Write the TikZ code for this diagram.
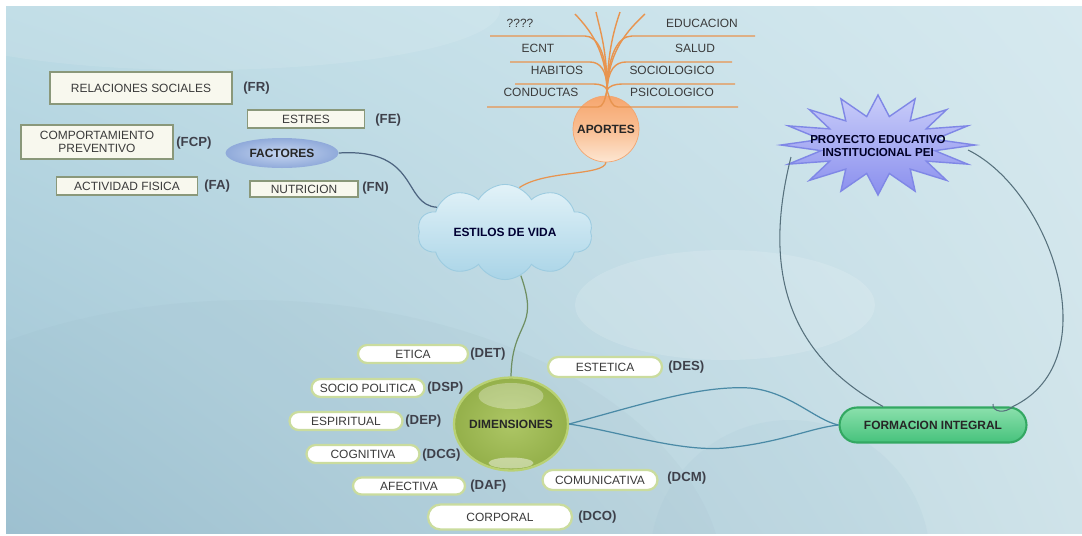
\documentclass[tikz,border=0pt]{standalone}
\usepackage{fontspec}
\setmainfont{Liberation Sans}
\usetikzlibrary{shapes.geometric,shapes.symbols,shapes.misc,shadings}
\definecolor{bgUL}{HTML}{BCDBE5}
\definecolor{bgUR}{HTML}{D6E9EF}
\definecolor{bgLL}{HTML}{9FC3D3}
\definecolor{bgLR}{HTML}{CFE3E9}
\definecolor{boxfill}{HTML}{F8F8EE}
\definecolor{boxdraw}{HTML}{8A987A}
\definecolor{txt}{HTML}{3A3A3A}
\definecolor{tagc}{HTML}{3E404A}
\definecolor{pilldraw}{HTML}{CADC9E}
\definecolor{orangeL}{HTML}{E8944F}
\definecolor{facdark}{HTML}{90AADA}
\definecolor{faclight}{HTML}{C6D6F0}
\definecolor{connblue}{HTML}{4D6480}
\definecolor{apoTop}{HTML}{F6A66E}
\definecolor{apoMid}{HTML}{F9BE92}
\definecolor{apoBot}{HTML}{FDE6D2}
\definecolor{apoDraw}{HTML}{F2A570}
\definecolor{cloudTop}{HTML}{E2F2F8}
\definecolor{cloudBot}{HTML}{A9D4E7}
\definecolor{cloudDraw}{HTML}{9CCBE0}
\definecolor{dimIn}{HTML}{ADC665}
\definecolor{dimOut}{HTML}{94B04A}
\definecolor{dimDraw}{HTML}{B9D173}
\definecolor{formTop}{HTML}{8BE0AC}
\definecolor{formBot}{HTML}{46C27C}
\definecolor{formDraw}{HTML}{33A862}
\definecolor{starTop}{HTML}{C9CDF9}
\definecolor{starBot}{HTML}{8A8FEE}
\definecolor{starDraw}{HTML}{7F87E6}
\definecolor{dimLine}{HTML}{6F8F62}
\definecolor{formLine}{HTML}{4A8AA6}
\definecolor{peiLine}{HTML}{56707C}
\newcommand\mfs{\fontsize{6.8}{7.6}\selectfont}
\newcommand\mfb{\bfseries\fontsize{6.8}{7.6}\selectfont}
\tikzset{
  fbox/.style={draw=boxdraw, fill=boxfill, line width=0.6pt, font=\mfs, text=txt, inner sep=0pt, align=center},
  pill/.style={rounded rectangle, draw=pilldraw, fill=white, line width=1.3pt, font=\mfs, text=txt, inner sep=0pt, minimum height=0.36cm},
  tag/.style={font=\bfseries\fontsize{7.5}{8}\selectfont, text=tagc, inner sep=0pt, anchor=west},
  lbl/.style={font=\mfs, text=txt, inner sep=0pt},
  abranch/.style={draw=orangeL, line width=0.8pt},
  conn/.style={line width=0.7pt},
}
\begin{document}
\begin{tikzpicture}[x=0.02cm,y=-0.02cm]
\useasboundingbox (0,0) rectangle (1082,535);
\fill[white] (0,0) rectangle (1082,535);
\shade[upper left=bgUL, upper right=bgUR, lower left=bgLL, lower right=bgLR] (6,6) rectangle (1082,533);
\begin{scope}
\clip (6,6) rectangle (1082,533);
\fill[white, opacity=0.14] (725,305) ellipse [x radius=3cm, y radius=1.1cm];
\fill[bgLL!85!black, opacity=0.07] (250,590) ellipse [x radius=9.5cm, y radius=5.8cm];
\fill[bgLL, opacity=0.14] (790,560) circle [radius=2.8cm];
\fill[white, opacity=0.10] (200,10) ellipse [x radius=6cm, y radius=1.2cm];
\end{scope}

% factor boxes
\node[fbox, minimum width=3.64cm, minimum height=0.64cm] (rs) at (141,88) {RELACIONES SOCIALES};
\node[fbox, minimum width=2.34cm, minimum height=0.36cm] (es) at (306,119) {ESTRES};
\node[fbox, minimum width=3.04cm, minimum height=0.68cm] (cp) at (97,142) {COMPORTAMIENTO\\PREVENTIVO};
\node[fbox, minimum width=2.82cm, minimum height=0.36cm] (af) at (127,186) {ACTIVIDAD FISICA};
\node[fbox, minimum width=2.16cm, minimum height=0.32cm] (nu) at (304,189) {NUTRICION};
\node[tag] (tfr) at (243,88) {(FR)};
\node[tag] (tfe) at (375,120) {(FE)};
\node[tag] (tfcp) at (176,143) {(FCP)};
\node[tag] (tfa) at (204,186) {(FA)};
\node[tag] (tfn) at (362,188) {(FN)};
\node[ellipse, minimum width=2.26cm, minimum height=0.6cm, inner sep=0pt, inner color=faclight, outer color=facdark, font=\mfb, text=black!85] (fac) at (282,153) {FACTORES};

% aportes
\node[circle, minimum size=1.32cm, inner sep=0pt, top color=apoTop, bottom color=apoBot, middle color=apoMid, draw=apoDraw, line width=0.4pt, font=\mfb, text=black!85] (apo) at (606,129) {APORTES};
\node[lbl] (a1) at (520,23) {????};
\node[lbl] (a2) at (538,48) {ECNT};
\node[lbl] (a3) at (557,70) {HABITOS};
\node[lbl] (a4) at (541,92) {CONDUCTAS};
\node[lbl] (a5) at (702,23) {EDUCACION};
\node[lbl] (a6) at (695,48) {SALUD};
\node[lbl] (a7) at (672,70) {SOCIOLOGICO};
\node[lbl] (a8) at (672,92) {PSICOLOGICO};
\coordinate (tr) at (607,90);
\draw[abranch] (apo.north) -- (tr);
\draw[abranch] (tr) .. controls (605,100) and (603,107) .. (598,107) -- (487,107);
\draw[abranch] (tr) .. controls (606,86) and (600,84) .. (594,84) -- (515,84);
\draw[abranch] (tr) .. controls (607,70) and (600,62) .. (590,62) -- (510,62);
\draw[abranch] (tr) .. controls (607,55) and (598,36) .. (585,36) -- (490,36);
\draw[abranch] (tr) .. controls (610,100) and (612,107) .. (618,107) -- (738,107);
\draw[abranch] (tr) .. controls (609,86) and (615,84) .. (622,84) -- (735,84);
\draw[abranch] (tr) .. controls (608,70) and (615,62) .. (626,62) -- (732,62);
\draw[abranch] (tr) .. controls (608,55) and (618,36) .. (632,36) -- (755,36);
\draw[abranch] (tr) .. controls (606,50) and (590,30) .. (575,14);
\draw[abranch] (tr) .. controls (607,50) and (600,30) .. (596,12);
\draw[abranch] (tr) .. controls (608,50) and (614,30) .. (620,12);
\draw[abranch] (tr) .. controls (609,50) and (628,30) .. (645,14);

% cloud
\node[cloud, cloud puffs=10, cloud puff arc=120, aspect=2, minimum width=3.5cm, minimum height=1.85cm, inner sep=0pt, top color=cloudTop, bottom color=cloudBot, draw=cloudDraw, line width=0.5pt, font=\mfb, text=black!80!blue] (cloud) at (505,232) {ESTILOS DE VIDA};

% dimensiones
\node[ellipse, minimum width=2.28cm, minimum height=1.86cm, inner sep=0pt, draw=dimDraw, line width=1.3pt, inner color=dimIn, outer color=dimOut, font=\mfb, text=black!85] (dim) at (511,424) {};
\fill[white, opacity=0.3] (511,396) ellipse [x radius=0.65cm, y radius=0.26cm];
\fill[white, opacity=0.45] (511,463) ellipse [x radius=0.45cm, y radius=0.11cm];
\node[font=\mfb, text=black!85] (dimt) at (dim.center) {DIMENSIONES};

\node[pill, minimum width=2.2cm] (det) at (413,354) {ETICA};
\node[pill, minimum width=2.26cm] (dsp) at (368,388) {SOCIO POLITICA};
\node[pill, minimum width=2.26cm] (dep) at (346,421) {ESPIRITUAL};
\node[pill, minimum width=2.26cm] (dcg) at (363,454) {COGNITIVA};
\node[pill, minimum width=2.24cm, minimum height=0.34cm] (daf) at (409,486) {AFECTIVA};
\node[pill, minimum width=2.88cm, minimum height=0.5cm] (dco) at (500,517) {CORPORAL};
\node[pill, minimum width=2.28cm, minimum height=0.4cm] (des) at (605,367) {ESTETICA};
\node[pill, minimum width=2.3cm, minimum height=0.4cm] (dcm) at (600,480) {COMUNICATIVA};
\node[tag] (tdet) at (470,354) {(DET)};
\node[tag] (tdsp) at (427,388) {(DSP)};
\node[tag] (tdep) at (405,421) {(DEP)};
\node[tag] (tdcg) at (422,455) {(DCG)};
\node[tag] (tdaf) at (470,486) {(DAF)};
\node[tag] (tdco) at (578,517) {(DCO)};
\node[tag] (tdes) at (668,367) {(DES)};
\node[tag] (tdcm) at (667,478) {(DCM)};

% formacion integral
\node[rounded rectangle, minimum width=3.74cm, minimum height=0.7cm, inner sep=0pt, top color=formTop, bottom color=formBot, draw=formDraw, line width=1.2pt, font=\mfb, text=black!85] (form) at (933,425) {FORMACION INTEGRAL};

% PEI star
\begin{scope}[shift={(878,145)}]
\draw[draw=starDraw, line width=0.8pt, top color=starTop, bottom color=starBot] (0:97 and 50) \foreach \a in {0,22.5,...,337.5} { -- ({\a+11.25}:58 and 29) -- ({\a+22.5}:97 and 50)} -- cycle;
\end{scope}
\node[font=\bfseries\fontsize{6.6}{6.9}\selectfont, align=center, text=black!85!blue, inner sep=0pt] (pei) at (878,146) {PROYECTO EDUCATIVO\\INSTITUCIONAL PEI};
\coordinate (peiL) at (791,157);
\coordinate (peiR) at (968,150);

% connectors
\draw[conn, draw=connblue] (fac.east) .. controls (420,148) and (402,205) .. (cloud.160);
\draw[conn, draw=orangeL] (apo.south) .. controls (604,176) and (545,170) .. (cloud.72);
\draw[conn, draw=dimLine] (cloud.-70) .. controls (540,330) and (512,320) .. (dim.north);
\draw[conn, draw=formLine] (dim.east) .. controls (640,405) and (700,385) .. (750,388) .. controls (790,392) and (815,420) .. (form.west);
\draw[conn, draw=formLine] (dim.east) .. controls (620,432) and (680,452) .. (725,448) .. controls (780,443) and (810,428) .. (form.west);
\draw[conn, draw=peiLine, line width=0.6pt] (peiL) .. controls (765,260) and (780,350) .. ([xshift=-1cm]form.north);
\draw[conn, draw=peiLine, line width=0.6pt] (peiR) .. controls (1050,190) and (1110,360) .. ([xshift=1.6cm]form.north) .. controls (1005,414) and (992,412) .. (993,404);
\end{tikzpicture}
\end{document}
